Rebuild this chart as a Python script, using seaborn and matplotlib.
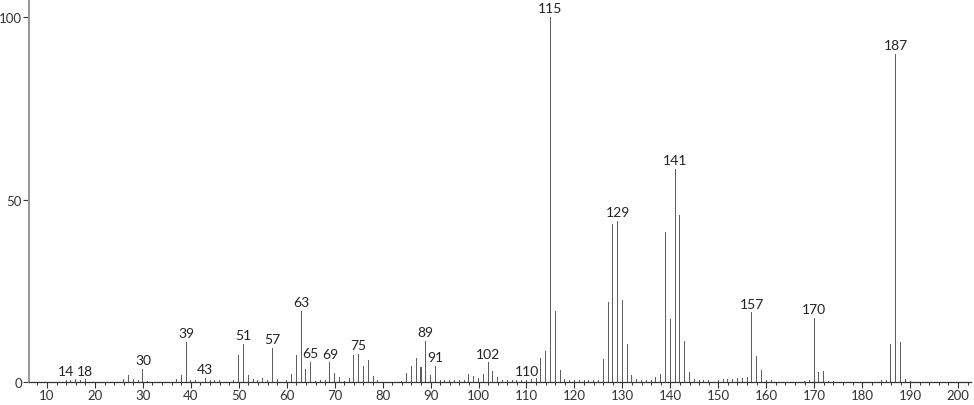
"""
Mass spectrum stick plot (m/z vs relative intensity)
"""
import matplotlib
matplotlib.use("Agg")
import matplotlib.pyplot as plt
from matplotlib.ticker import MultipleLocator
import seaborn as sns

# m/z values and relative intensities (%)
mz = [14, 15, 16, 17, 18,
      26, 27, 28, 29, 30, 31,
      37, 38, 39, 40, 41, 43, 44, 45, 46,
      49, 50, 51, 52, 53, 54, 55, 56, 57, 58, 60,
      61, 62, 63, 64, 65, 66, 67, 68, 69, 70,
      71, 72, 73, 74, 75, 76, 77, 78, 79,
      84, 85, 86, 87, 88, 89, 90, 91, 92, 93, 94, 95, 96, 97,
      98, 99, 100, 101, 102, 103, 104, 105, 106, 107, 108, 109, 110,
      111, 112, 113, 114, 115, 116, 117, 118, 119, 120,
      121, 122, 123, 124, 125, 126, 127, 128, 129, 130,
      131, 132, 133, 134, 135, 136, 137, 138, 139, 140,
      141, 142, 143, 144, 145, 146, 147, 148, 150,
      151, 152, 153, 154, 155, 156, 157, 158, 159, 160, 161,
      168, 169, 170, 171, 172, 173, 174,
      184, 185, 186, 187, 188, 189, 190]
intensity = [0.6, 0.5, 0.7, 0.5, 0.7,
             0.8, 2.0, 0.8, 0.5, 3.7, 0.3,
             0.8, 2.0, 11.0, 0.5, 0.5, 1.1, 0.5, 0.5, 0.5,
             0.5, 7.4, 10.4, 2.0, 0.8, 0.5, 1.0, 0.6, 9.4, 0.8, 0.5,
             2.2, 7.4, 19.4, 3.7, 5.6, 0.4, 0.5, 0.5, 5.4, 2.6,
             1.3, 0.4, 1.0, 7.4, 7.7, 4.5, 6.0, 1.7, 0.5,
             0.4, 2.6, 4.3, 6.6, 4.1, 11.3, 2.0, 4.4, 0.5, 0.5, 0.5, 0.5, 0.5, 0.5,
             2.2, 1.7, 1.0, 2.2, 5.4, 2.9, 1.3, 0.5, 0.5, 0.5, 0.5, 0.5, 0.5,
             0.8, 1.0, 6.6, 8.4, 100.0, 19.4, 3.3, 0.8, 0.5, 0.5,
             0.5, 0.5, 0.5, 0.5, 0.5, 6.3, 21.8, 43.3, 44.2, 22.5,
             10.4, 1.9, 0.8, 0.5, 0.5, 0.5, 1.3, 2.2, 41.0, 17.4,
             58.4, 45.8, 11.3, 2.8, 0.8, 0.5, 0.5, 0.5, 0.5,
             0.8, 0.8, 0.8, 1.0, 1.1, 1.3, 19.1, 7.2, 3.4, 0.6, 0.6,
             0.4, 0.5, 17.5, 2.8, 3.1, 0.4, 0.4,
             0.5, 0.5, 10.4, 89.9, 11.1, 0.9, 0.4]

# peaks that carry an m/z label
labeled = [14, 18, 30, 39, 43, 51, 57, 63, 65, 69, 75, 89, 91, 102, 110,
           115, 129, 141, 157, 170, 187]

x_ticks = list(range(10, 201, 10))
y_ticks = [0, 50, 100]

sns.set_theme(style="ticks")
plt.rcParams["font.family"] = ["Lato", "DejaVu Sans"]

fig = plt.figure(figsize=(9.74, 4.06), dpi=100)
ax = fig.add_axes([29 / 974, 1 - 383 / 406, (971 - 29) / 974, 383 / 406])

sns.barplot(x=mz, y=intensity, native_scale=True, width=0.21,
            color="#5e5e5e", saturation=1, linewidth=0, errorbar=None, ax=ax)

peak = dict(zip(mz, intensity))
for m in labeled:
    ax.annotate(str(m), (m, peak.get(m, 0)), xytext=(0, 2),
                textcoords="offset points", ha="center", va="bottom",
                fontsize=10, color="#222222")

ax.set_xlim(6.25, 202.7)
ax.set_ylim(0, 105)
ax.set_xticks(x_ticks)
ax.set_xticklabels([str(t) for t in x_ticks])
ax.xaxis.set_minor_locator(MultipleLocator(2))
ax.set_yticks(y_ticks)
ax.set_yticklabels([str(t) for t in y_ticks])

ax.tick_params(axis="x", which="major", length=4, width=0.8, pad=1,
               labelsize=9.5, colors="#333333")
ax.tick_params(axis="x", which="minor", length=2.5, width=0.7, colors="#333333")
ax.tick_params(axis="y", which="major", length=4, width=0.8, pad=1,
               labelsize=9.5, colors="#333333")

for s in ["top", "right"]:
    ax.spines[s].set_visible(False)
ax.spines["left"].set_color("#9a9a9a")
ax.spines["left"].set_linewidth(1.5)
ax.spines["bottom"].set_color("#333333")
ax.spines["bottom"].set_linewidth(0.9)

ax.set_xlabel("")
ax.set_ylabel("")
ax.grid(False)

fig.savefig("out.png", dpi=100)
plt.close(fig)
